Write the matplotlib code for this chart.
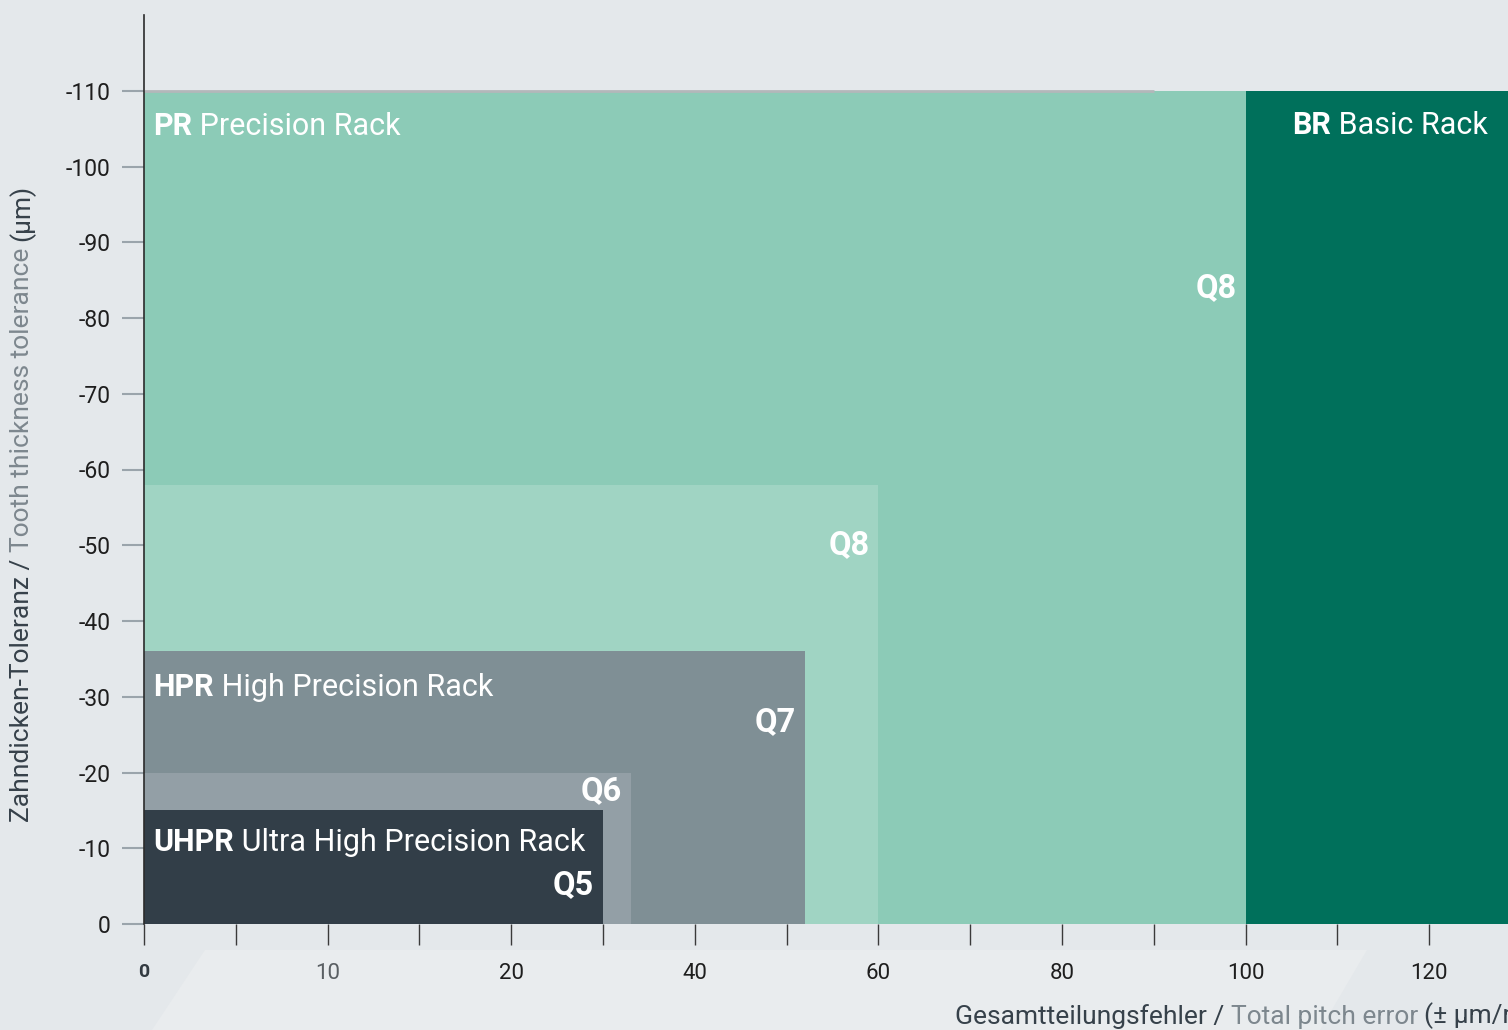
import numpy as np
import matplotlib.pyplot as plt
from matplotlib.patches import Polygon

plt.rcParams['font.family'] = ['Roboto', 'DejaVu Sans']

# x axis has uneven steps, every labelled tick gets the same room
x_ticks = [0, 10, 20, 40, 60, 80, 100, 120, 140]
x_minor = [5, 15, 30, 50, 70, 90, 110]
y_ticks = [0, -10, -20, -30, -40, -50, -60, -70, -80, -90, -100, -110]

# blocks, drawn back to front
grades = ["", "Q8", "Q8", "Q7", "Q6", "Q5"]
pitch_from = [100, 0, 0, 0, 0, 0]
pitch_to = [140, 100, 60, 52, 33, 30]
tol = [-110, -110, -58, -36, -20, -15]
grade_y = [None, -84, -50, -26.6, -17.5, -5.1]
colors = ["#00705b", "#8ccbb7", "#a0d4c3", "#7f8f95", "#939fa6", "#323e48"]

rack_short = ["BR", "PR", "HPR", "UHPR"]
rack_long = ["Basic Rack", "Precision Rack", "High Precision Rack", "Ultra High Precision Rack"]
rack_x = [100, 0, 0, 0]
rack_y = [-105.5, -105.4, -31.3, -10.8]

DARK = "#36414a"
GREY = "#7d878e"

idx = np.arange(len(x_ticks))


def fwd(v):
    return np.interp(v, x_ticks, idx)


def inv(p):
    return np.interp(p, idx, x_ticks)


W, H = 1508, 1030
fig = plt.figure(figsize=(W / 100, H / 100), dpi=100)
fig.patch.set_facecolor("#e4e8eb")

# lighter band under the plot
px = lambda x, y: (x / W, 1 - y / H)
fig.add_artist(Polygon([px(205, 950), px(1367, 950), px(1320, 1030), px(152, 1030)],
                       closed=True, transform=fig.transFigure,
                       facecolor="#e9ecee", edgecolor="none", zorder=0))

ax = fig.add_axes([144 / W, 1 - 924 / H, (W - 144) / W, (924 - 15) / H])
ax.patch.set_alpha(0)
ax.set_xscale("function", functions=(fwd, inv))

for a, b, t, c in zip(pitch_from, pitch_to, tol, colors):
    ax.bar(a, t, width=b - a, align="edge", color=c, linewidth=0, zorder=2)

ax.plot([0, 90], [-110, -110], color="#b3b7ba", lw=2, zorder=3, solid_capstyle="butt")

for side in ["top", "right", "bottom"]:
    ax.spines[side].set_visible(False)
ax.spines["left"].set_color("#2b2b2b")
ax.spines["left"].set_linewidth(1.2)
ax.spines["left"].set_zorder(4)

ax.set_xticks(x_ticks[:-1])
ax.set_xticklabels([str(v) for v in x_ticks[:-1]])
ax.set_xticks(x_minor, minor=True)
ax.tick_params(axis="x", which="both", length=15, width=1, color="#3a3a3a",
               pad=13, labelsize=16, labelcolor="#1e1e1e")
lbls = ax.get_xticklabels()
lbls[0].set_fontweight("bold")
lbls[0].set_fontsize(14)
lbls[0].set_color("#333b42")
lbls[1].set_color("#5a5f63")

ax.set_yticks(y_ticks)
ax.set_yticklabels([str(v) for v in y_ticks])
ax.tick_params(axis="y", length=16, width=1.5, color="#9aa4ab", pad=8,
               labelsize=16.5, labelcolor="#1e1e1e")

# limits last, so the ticks cannot widen them
ax.set_xlim(0, inv((W - 144) / 183.6))
ax.set_ylim(0, -120)

# Q labels at the right edge of each block
for g, b, gy in zip(grades, pitch_to, grade_y):
    if g:
        ax.annotate(g, xy=(b, gy), xytext=(-9, 0), textcoords="offset pixels",
                    ha="right", va="center", color="white", fontsize=23.5,
                    fontweight="bold", zorder=5)

# rack names: bold short + regular long
for s, l, rx, ry in zip(rack_short, rack_long, rack_x, rack_y):
    off = 47 if rx > 0 else 9
    t1 = ax.annotate(s, xy=(rx, ry), xytext=(off, 0), textcoords="offset pixels",
                     ha="left", va="center", color="white", fontsize=22,
                     fontweight="bold", zorder=5)
    ax.annotate(" " + l, xy=(1, 0), xycoords=t1, ha="left", va="bottom",
                color="white", fontsize=22, zorder=5)

# axis titles in two greys
x0 = fig.text(955 / W, 1 - 1017 / H, "Gesamtteilungsfehler / ", color=DARK,
              fontsize=19, ha="left", va="center")
x1 = ax.annotate("Total pitch error ", xy=(1, 0), xycoords=x0, ha="left",
                 va="bottom", color=GREY, fontsize=19, annotation_clip=False)
ax.annotate("(± µm/m)", xy=(1, 0), xycoords=x1, ha="left", va="bottom",
            color=DARK, fontsize=19, annotation_clip=False)

y0 = fig.text(22 / W, 1 - 822 / H, "Zahndicken-Toleranz / ", color=DARK,
              fontsize=19, rotation=90, ha="center", va="bottom")
y1 = ax.annotate("Tooth thickness tolerance ", xy=(0.5, 1), xycoords=y0,
                 ha="center", va="bottom", rotation=90, color=GREY, fontsize=19,
                 annotation_clip=False)
ax.annotate("(µm)", xy=(0.5, 1), xycoords=y1, ha="center", va="bottom",
            rotation=90, color=DARK, fontsize=19, annotation_clip=False)

fig.savefig("out.png", dpi=100, facecolor=fig.get_facecolor())
